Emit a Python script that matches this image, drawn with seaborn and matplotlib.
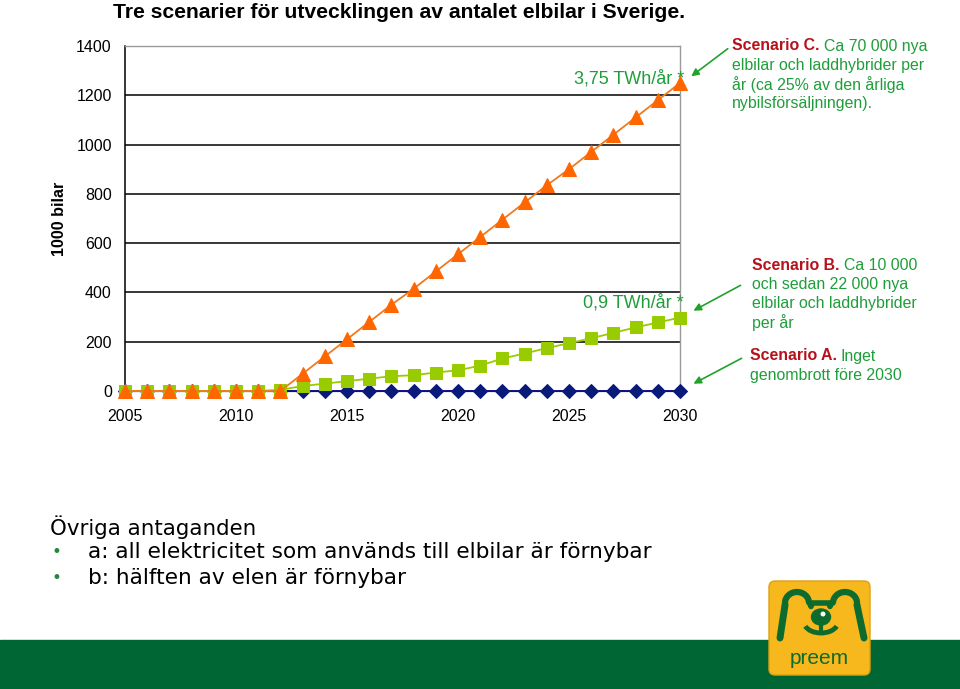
import matplotlib
matplotlib.use("Agg")
import matplotlib.pyplot as plt
import seaborn as sns
import pandas as pd
from matplotlib.patches import FancyBboxPatch, Rectangle, Ellipse, Arc

# data (1000 bilar)
years = list(range(2005, 2031))
scenario_a = [0] * 26
scenario_b = [0, 0, 0, 0, 0, 0, 0, 5, 20, 30, 40, 50, 60, 64, 75, 84, 103, 132,
              152, 174, 194, 214, 236, 258, 278, 298]
scenario_c = [0, 0, 0, 0, 0, 0, 0, 0, 70, 140, 210, 280, 350, 415, 485, 555, 625,
              695, 765, 835, 900, 970, 1040, 1110, 1180, 1250]
yticks = [0, 200, 400, 600, 800, 1000, 1200, 1400]
xticks = [2005, 2010, 2015, 2020, 2025, 2030]

GREEN_TXT = "#1E9E3A"
RED_TXT = "#B5121B"

sns.set_style("white")
plt.rcParams["font.family"] = ["Liberation Sans", "DejaVu Sans"]
plt.rcParams["text.color"] = "black"
plt.rcParams["xtick.color"] = "black"
plt.rcParams["ytick.color"] = "black"

df = pd.DataFrame({
    "year": years * 3,
    "value": scenario_a + scenario_b + scenario_c,
    "scenario": ["A"] * 26 + ["B"] * 26 + ["C"] * 26,
})

fig = plt.figure(figsize=(9.6, 6.89), dpi=100)
ax = fig.add_axes([125 / 960, 1 - 391 / 689, 555 / 960, 345 / 689])

styles = {
    "A": dict(color="#000080", marker="D", mfc="#0A1A7A", mec="#0A1A7A", ms=7.5),
    "B": dict(color="#99CC00", marker="s", mfc="#99CC00", mec="#99CC00", ms=8),
    "C": dict(color="#F07A1E", marker="^", mfc="#FF6600", mec="#FF6600", ms=10),
}
for z, key in enumerate(["A", "B", "C"]):
    st = styles[key]
    sub = df[df["scenario"] == key]
    sns.lineplot(data=sub, x="year", y="value", ax=ax, color=st["color"], lw=1.3,
                 marker=st["marker"], markersize=st["ms"], markerfacecolor=st["mfc"],
                 markeredgecolor=st["mec"], clip_on=False, zorder=3 + z, legend=False)

ax.set_xlim(2005, 2030)
ax.set_ylim(0, 1400)
ax.set_yticks(yticks)
ax.set_xticks(xticks)
ax.set_xlabel("")
ax.set_ylabel("")
for v in yticks[1:-1]:
    ax.axhline(v, color="black", lw=1.1, zorder=1)
ax.tick_params(axis="y", direction="inout", length=7, width=1, labelsize=11.5, pad=6)
ax.tick_params(axis="x", length=0, labelsize=11.5, pad=13)
ax.spines["left"].set_color("black")
ax.spines["left"].set_linewidth(1.1)
for s in ["top", "right", "bottom"]:
    ax.spines[s].set_color("#9A9A9A")
    ax.spines[s].set_linewidth(1)

# overlay in pixel coordinates
ov = fig.add_axes([0, 0, 1, 1], zorder=10)
ov.set_xlim(0, 960)
ov.set_ylim(689, 0)
ov.axis("off")
ov.patch.set_alpha(0)

ov.text(113, 12, "Tre scenarier för utvecklingen av antalet elbilar i Sverige.",
        fontsize=15.2, fontweight="bold", va="center", ha="left")
ov.text(60, 219, "1000 bilar", rotation=90, fontsize=11.6, fontweight="bold",
        va="center", ha="center")
ov.text(684, 79, "3,75 TWh/år *", color=GREEN_TXT, fontsize=13, ha="right", va="center")
ov.text(684, 303, "0,9 TWh/år *", color=GREEN_TXT, fontsize=13, ha="right", va="center")

renderer = fig.canvas.get_renderer()


def scenario_note(x, y, head, first, rest, size=11.4, lh=19.3):
    t = ov.text(x, y, head, color=RED_TXT, fontsize=size, fontweight="bold",
                ha="left", va="center")
    w = t.get_window_extent(renderer).width
    ov.text(x + w + 4, y, first, color=GREEN_TXT, fontsize=size, ha="left", va="center")
    for i, line in enumerate(rest):
        ov.text(x, y + lh * (i + 1), line, color=GREEN_TXT, fontsize=size,
                ha="left", va="center")


scenario_note(732, 46, "Scenario C.", "Ca 70 000 nya",
              ["elbilar och laddhybrider per", "år (ca 25% av den årliga",
               "nybilsförsäljningen)."])
scenario_note(752, 265, "Scenario B.", "Ca 10 000",
              ["och sedan 22 000 nya", "elbilar och laddhybrider", "per år"])
scenario_note(750, 356, "Scenario A.", "Inget", ["genombrott före 2030"])

arrow = dict(arrowstyle="-|>", color="#22A22A", lw=1.2, mutation_scale=11)
ov.annotate("", xy=(689, 78), xytext=(730, 47), arrowprops=arrow)
ov.annotate("", xy=(691, 312), xytext=(743, 284), arrowprops=arrow)
ov.annotate("", xy=(691, 385), xytext=(744, 357), arrowprops=arrow)

# bottom assumptions
ov.text(50, 527, "Övriga antaganden", fontsize=15.4, family="DejaVu Sans",
        ha="left", va="center")
for i, line in enumerate(["a: all elektricitet som används till elbilar är förnybar",
                          "b: hälften av elen är förnybar"]):
    yy = 552 + 26 * i
    ov.text(52, yy, "•", color="#1E8A3A", fontsize=12, family="DejaVu Sans",
            ha="left", va="center")
    ov.text(88, yy, line, fontsize=15.6, family="DejaVu Sans", ha="left", va="center")

# green band + logo
ov.add_patch(Rectangle((0, 640), 960, 49, color="#006633", zorder=1))
ov.add_patch(FancyBboxPatch((769, 581), 101, 94, boxstyle="round,pad=0,rounding_size=6",
                            fc="#F6B81C", ec="#E0A010", lw=1, zorder=2))
bear = "#0E6B2E"
ov.add_patch(Arc((797, 603), 24, 22, theta1=170, theta2=360, color=bear, lw=4.5, zorder=3))
ov.add_patch(Arc((845, 603), 24, 22, theta1=180, theta2=10, color=bear, lw=4.5, zorder=3))
ov.plot([809, 833], [603, 603], color=bear, lw=4, zorder=3)
ov.plot([785, 780], [605, 638], color=bear, lw=5, zorder=3, solid_capstyle="round")
ov.plot([857, 864], [605, 638], color=bear, lw=5, zorder=3, solid_capstyle="round")
ov.add_patch(Ellipse((811, 605), 5, 7, color=bear, zorder=3))
ov.add_patch(Ellipse((830, 605), 5, 7, color=bear, zorder=3))
ov.add_patch(Ellipse((821, 617), 19, 16, color=bear, zorder=3))
ov.add_patch(Ellipse((823, 614), 3.5, 3.5, color="white", zorder=4))
ov.plot([821, 821], [622, 633], color=bear, lw=3, zorder=3)
ov.add_patch(Arc((821, 622), 34, 22, theta1=15, theta2=165, color=bear, lw=3.5, zorder=3))
ov.text(819, 658, "preem", color=bear, fontsize=15, ha="center", va="center")

fig.savefig("out.png", dpi=100)
